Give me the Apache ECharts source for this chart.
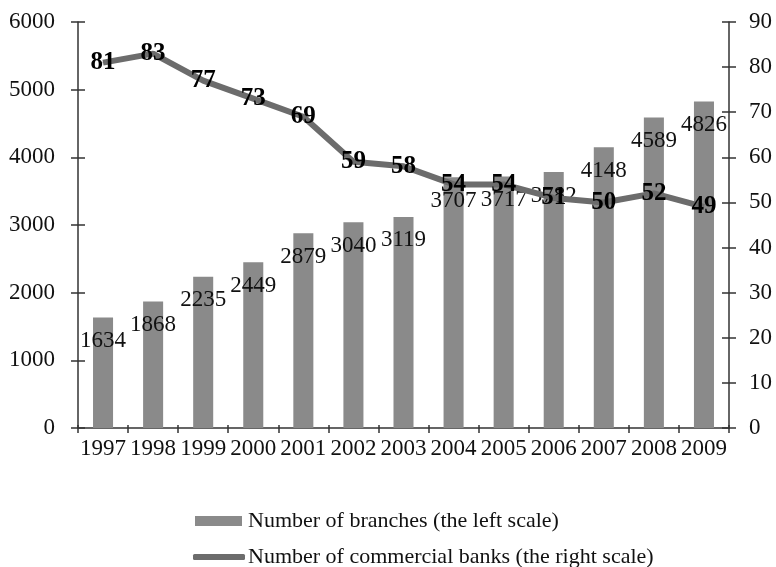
<!DOCTYPE html>
<html>
<head>
<meta charset="utf-8">
<script src="https://cdn.jsdelivr.net/npm/echarts@6/dist/echarts.min.js"></script>
<style>
    html, body { margin: 0; padding: 0; background: #fff; }
    #myChart { width: 776px; height: 567px; }
</style>
</head>
<body>
<div id="myChart"></div>
<script>
    // 数据
    var years = ['1997', '1998', '1999', '2000', '2001', '2002', '2003', '2004', '2005', '2006', '2007', '2008', '2009'];
    var branches = [1634, 1868, 2235, 2449, 2879, 3040, 3119, 3707, 3717, 3782, 4148, 4589, 4826];
    var banks = [81, 83, 77, 73, 69, 59, 58, 54, 54, 51, 50, 52, 49];
    var branchName = 'Number of branches (the left scale)';
    var bankName = 'Number of commercial banks (the right scale)';

    var font = "'Liberation Serif', 'Times New Roman', serif";
    var axisColor = '#333';

    // 轴线的公共样式
    function valueAxis(pos, max, interval, inside, showAll) {
        return {
            type: 'value',
            position: pos,
            min: 0,
            max: max,
            interval: interval,
            splitLine: { show: false },
            axisLine: { show: showAll, lineStyle: { color: axisColor, width: 1.5 } },
            axisTick: { show: true, inside: inside, length: 7, lineStyle: { color: axisColor, width: 1.5 } },
            axisLabel: {
                show: showAll,
                color: '#111',
                fontFamily: font,
                fontSize: 23,
                margin: pos == 'left' ? 23 : 20,
                formatter: function(v) { return String(v); }
            }
        };
    }

    // 图例
    function legendItem(name, top, left, icon, w, h, pad) {
        return {
            orient: 'vertical',
            left: left,
            top: top,
            itemWidth: w,
            itemHeight: h,
            textStyle: { fontFamily: font, fontSize: 22, color: '#111', padding: [0, 0, 0, pad] },
            data: [{ name: name, icon: icon }]
        };
    }

    var option = {
        backgroundColor: '#fff',
        animation: false,
        textStyle: { fontFamily: font },
        grid: { left: 78, right: 47, top: 22, bottom: 139, containLabel: false },
        legend: [
            legendItem(branchName, 505, 190, 'rect', 47, 10, 1),
            legendItem(bankName, 541, 188, 'roundRect', 52, 6, -2)
        ],
        xAxis: [{
            type: 'category',
            data: years,
            axisLine: { lineStyle: { color: axisColor, width: 1.5 } },
            axisTick: { show: true, length: 5, lineStyle: { color: axisColor, width: 1.5 } },
            axisLabel: { interval: 0, color: '#111', fontFamily: font, fontSize: 23, margin: 9 }
        }, {
            type: 'category',
            data: years,
            position: 'bottom',
            axisLine: { show: false },
            axisTick: { show: true, inside: true, length: 3, lineStyle: { color: axisColor, width: 1.5 } },
            axisLabel: { show: false }
        }],
        yAxis: [
            valueAxis('left', 6000, 1000, false, true),
            valueAxis('right', 90, 10, false, true),
            valueAxis('left', 6000, 1000, true, false),
            valueAxis('right', 90, 10, true, false)
        ],
        series: [{
            name: branchName,
            type: 'bar',
            data: branches,
            yAxisIndex: 0,
            barWidth: '40%',
            itemStyle: { color: '#8a8a8a' },
            label: {
                show: true,
                position: 'insideTop',
                offset: [0, 7],
                color: '#111',
                fontFamily: font,
                fontSize: 23
            }
        }, {
            name: bankName,
            type: 'line',
            data: banks,
            yAxisIndex: 1,
            symbol: 'circle',
            symbolSize: 1,
            itemStyle: { color: '#6c6c6c' },
            lineStyle: { color: '#6c6c6c', width: 6 },
            label: {
                show: true,
                position: 'inside',
                color: '#000',
                fontFamily: font,
                fontWeight: 'bold',
                fontSize: 25
            }
        }]
    };

    var myChart = echarts.init(document.getElementById('myChart'));
    myChart.setOption(option);
</script>
</body>
</html>
